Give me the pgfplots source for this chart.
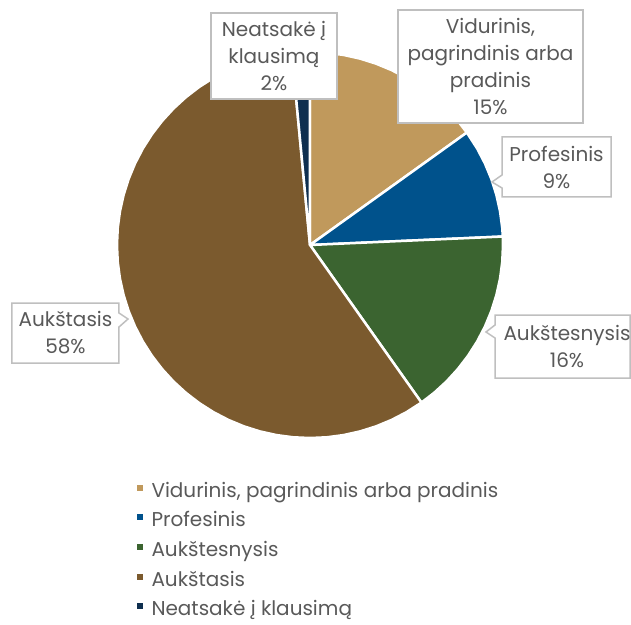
\documentclass[border=0pt]{standalone}
\usepackage{pgfplots}
\pgfplotsset{compat=1.18}
\usepgfplotslibrary{polar}
\usepackage{fontspec}
\setmainfont{Poppins}
\definecolor{cV}{HTML}{C0995C}
\definecolor{cP}{HTML}{00528C}
\definecolor{cA}{HTML}{3B6430}
\definecolor{cB}{HTML}{7B5A2E}
\definecolor{cN}{HTML}{0F2F4F}
\definecolor{txt}{HTML}{595959}
\definecolor{boxg}{HTML}{BFBFBF}
\newcommand{\lf}{\fontsize{20bp}{27bp}\selectfont}
\begin{document}
\begin{tikzpicture}
\path[use as bounding box] (-310bp,-380bp) rectangle (321bp,245bp);
\begin{polaraxis}[
  at={(0,0)}, anchor=origin,
  scale only axis, width=386bp, height=386bp,
  hide axis, ymin=0, ymax=1, clip=false,
  legend cell align=left,
  legend style={at={(0.041,-0.111)}, anchor=north west, draw=none, fill=none,
    font=\lf, text=txt, row sep=10.7bp, column sep=0bp,
    nodes={inner sep=0pt, text height=14bp, text depth=5bp}},
  legend image code/.code={\fill[#1,draw=none] (0bp,2bp) rectangle (6bp,8bp); \path (0bp,0bp) (13bp,0bp);},
  every axis plot/.append style={draw=white, line width=2.5bp, line join=round},
]
\addplot[fill=cV] coordinates {(0,0) (90,1) (85,1) (80,1) (75,1) (70,1) (65,1) (60,1) (55,1) (50,1) (45,1) (40,1) (35.64,1)} -- cycle;
\addlegendentry{Vidurinis, pagrindinis arba pradinis}
\addplot[fill=cP] coordinates {(0,0) (35.64,1) (30,1) (25,1) (20,1) (15,1) (10,1) (5,1) (2.52,1)} -- cycle;
\addlegendentry{Profesinis}
\addplot[fill=cA] coordinates {(0,0) (2.52,1) (0,1) (-5,1) (-10,1) (-15,1) (-20,1) (-25,1) (-30,1) (-35,1) (-40,1) (-45,1) (-50,1) (-54.72,1)} -- cycle;
\addlegendentry{Aukštesnysis}
\addplot[fill=cB] coordinates {(0,0) (-54.72,1) (-60,1) (-65,1) (-70,1) (-75,1) (-80,1) (-85,1) (-90,1) (-95,1) (-100,1) (-105,1) (-110,1) (-115,1) (-120,1) (-125,1) (-130,1) (-135,1) (-140,1) (-145,1) (-150,1) (-155,1) (-160,1) (-165,1) (-170,1) (-175,1) (-180,1) (-185,1) (-190,1) (-195,1) (-200,1) (-205,1) (-210,1) (-215,1) (-220,1) (-225,1) (-230,1) (-235,1) (-240,1) (-245,1) (-250,1) (-255,1) (-260,1) (-264.6,1)} -- cycle;
\addlegendentry{Aukštasis}
\addplot[fill=cN] coordinates {(0,0) (-264.6,1) (-270,1)} -- cycle;
\addlegendentry{Neatsakė į klausimą}
\end{polaraxis}
% label boxes
\begin{scope}[boxg, fill=white, line width=1.5bp, line join=miter]
\filldraw (-99bp,232bp) rectangle (27bp,146bp);
\filldraw (88bp,235bp) rectangle (273bp,122bp);
\filldraw (192bp,108bp) -- (301bp,108bp) -- (301bp,48bp) -- (192bp,48bp) -- (192bp,57bp) -- (182bp,63bp) -- (192bp,70bp) -- cycle;
\filldraw (185bp,-70bp) -- (320bp,-70bp) -- (320bp,-133bp) -- (185bp,-133bp) -- (185bp,-93bp) -- (176bp,-87bp) -- (185bp,-80bp) -- cycle;
\filldraw (-298bp,-58bp) -- (-191bp,-58bp) -- (-191bp,-68bp) -- (-182bp,-74bp) -- (-191bp,-82bp) -- (-191bp,-118bp) -- (-298bp,-118bp) -- cycle;
\end{scope}
\begin{scope}[every node/.style={align=center, text=txt, font=\lf, inner sep=0pt}]
\node at (-36bp,189bp) {Neatsakė į\\klausimą\\2\%};
\node at (180.5bp,178.5bp) {Vidurinis,\\pagrindinis arba\\pradinis\\15\%};
\node at (246.5bp,78bp) {Profesinis\\9\%};
\node at (257bp,-101.5bp) {Aukštesnysis\\16\%};
\node at (-244.5bp,-88bp) {Aukštasis\\58\%};
\end{scope}
\end{tikzpicture}
\end{document}
